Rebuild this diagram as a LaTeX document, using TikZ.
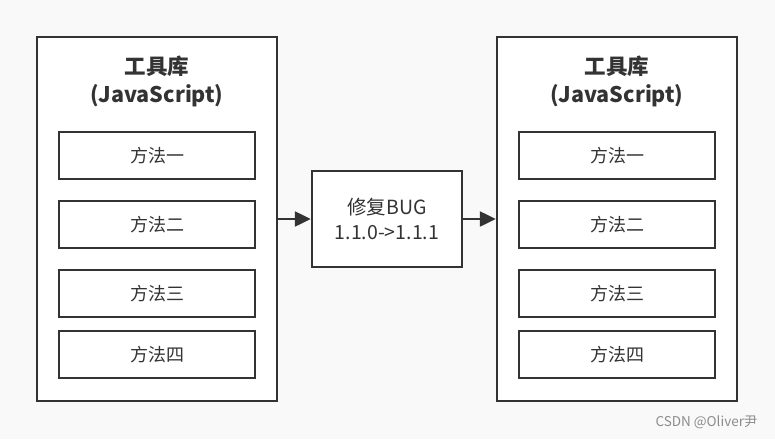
\documentclass[tikz,border=0pt]{standalone}
\usepackage{fontspec}
\setmainfont{Noto Sans CJK SC}
\usetikzlibrary{arrows.meta}
\definecolor{ln}{HTML}{333333}
\definecolor{bg}{HTML}{F9F9F9}
\begin{document}
\begin{tikzpicture}[x=1pt,y=-1pt,
  outerbox/.style={draw=ln,line width=2.5pt,fill=white},
  methodbox/.style={draw=ln,line width=2.5pt,fill=white,minimum width=196pt,minimum height=47pt,inner sep=0pt,font=\fontsize{18}{20}\selectfont,text=ln},
  fixbox/.style={draw=ln,line width=2.5pt,fill=white,minimum width=150pt,minimum height=96pt,inner sep=0pt,align=center,font=\fontsize{19.5}{25}\selectfont,text=ln},
  titletext/.style={align=center,font=\fontsize{21.5}{28}\selectfont\bfseries,text=ln},
  arr/.style={draw=ln,line width=2.5pt,-{Triangle[length=16pt,width=15pt]}}]
\fill[bg] (0,0) rectangle (775,439);
\useasboundingbox (0,0) rectangle (775,439);
% left library
\node[outerbox,minimum width=240pt,minimum height=364pt,inner sep=0pt] (L) at (157,219) {};
\node[titletext] (Lt) at (157,81) {工具库\\(JavaScript)};
\node[methodbox] (L1) at (157,155.5) {方法一};
\node[methodbox] (L2) at (157,224.5) {方法二};
\node[methodbox] (L3) at (157,293.5) {方法三};
\node[methodbox] (L4) at (157,354.5) {方法四};
% right library
\node[outerbox,minimum width=240pt,minimum height=364pt,inner sep=0pt] (R) at (617,219) {};
\node[titletext] (Rt) at (617,81) {工具库\\(JavaScript)};
\node[methodbox] (R1) at (617,155.5) {方法一};
\node[methodbox] (R2) at (617,224.5) {方法二};
\node[methodbox] (R3) at (617,293.5) {方法三};
\node[methodbox] (R4) at (617,354.5) {方法四};
% middle
\node[fixbox] (M) at (387,219) {修复BUG\\1.1.0->1.1.1};
\draw[arr] (L.east |- M.west) -- (M.west);
\draw[arr] (M.east) -- (R.west |- M.east);
% watermark
\node[font=\fontsize{13.5}{15}\selectfont,text=black!45,anchor=east] (wm) at (761,422) {CSDN @Oliver尹};
\end{tikzpicture}
\end{document}
